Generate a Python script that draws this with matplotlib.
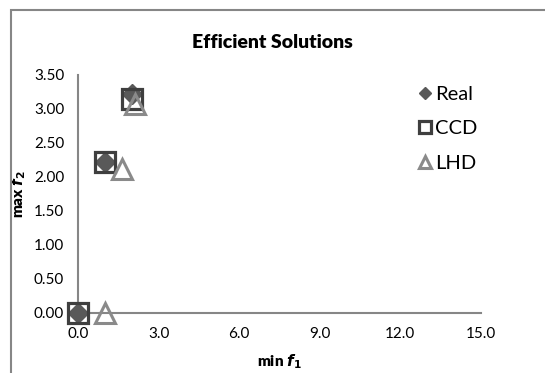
import matplotlib.pyplot as plt
from matplotlib.patches import Rectangle

plt.rcParams['font.family'] = ['Lato', 'DejaVu Sans']

# efficient solutions
real_f1 = [0.0, 1.0, 2.0]
real_f2 = [0.0, 2.22, 3.22]
ccd_f1 = [0.0, 1.0, 2.0]
ccd_f2 = [0.0, 2.22, 3.14]
lhd_f1 = [1.0, 1.62, 2.12]
lhd_f2 = [0.0, 2.12, 3.08]

x_ticks = [0, 3, 6, 9, 12, 15]
y_ticks = [0, 0.5, 1.0, 1.5, 2.0, 2.5, 3.0, 3.5]

fig = plt.figure(figsize=(5.45, 3.73), dpi=100)
# outer chart frame (cut off on the right and bottom like the original)
fig.patches.append(Rectangle((11/545, -0.1), 1.2, 1.1 - 10/373, transform=fig.transFigure,
                             fill=False, edgecolor='#868686', linewidth=1.5))

ax = fig.add_axes([78/545, 1 - 313/373, (481 - 78)/545, (313 - 75)/373])

ax.plot(real_f1, real_f2, linestyle='none', marker='D', markersize=10,
        color='#595959', clip_on=False, zorder=3, label='Real')
ax.plot(ccd_f1, ccd_f2, linestyle='none', marker='s', markersize=14,
        markerfacecolor='none', markeredgecolor='#3f3f3f', markeredgewidth=2.3,
        clip_on=False, zorder=4, label='CCD')
ax.plot(lhd_f1, lhd_f2, linestyle='none', marker='^', markersize=15,
        markerfacecolor='none', markeredgecolor='#8a8a8a', markeredgewidth=2.2,
        clip_on=False, zorder=5, label='LHD')

ax.set_xlim(0, 15)
ax.set_ylim(0, 3.5)
ax.set_xticks(x_ticks)
ax.set_xticklabels(['%.1f' % v for v in x_ticks])
ax.set_yticks(y_ticks)
ax.set_yticklabels(['%.2f' % v for v in y_ticks])
ax.tick_params(length=0, labelsize=11, pad=10)

for s in ['top', 'right']:
    ax.spines[s].set_visible(False)
for s in ['left', 'bottom']:
    ax.spines[s].set_color('#868686')
    ax.spines[s].set_linewidth(1.5)

ax.set_xlabel(r'min $\boldsymbol{f}_\mathbf{1}$', fontsize=11, fontweight='heavy', labelpad=8)
ax.set_ylabel(r'max $\boldsymbol{f}_\mathbf{2}$', fontsize=11, fontweight='heavy', labelpad=4)

fig.text(272/545, 1 - 43/373, 'Efficient Solutions', fontsize=14, fontweight='heavy',
         ha='center', va='center')

ax.legend(loc='upper left', bbox_to_anchor=(407/545, 1 - 76/373), bbox_transform=fig.transFigure,
          frameon=False, fontsize=14.5, markerscale=0.6, handlelength=0.8,
          handletextpad=0.1, labelspacing=0.85, borderpad=0)

fig.savefig('out.png', dpi=100)
